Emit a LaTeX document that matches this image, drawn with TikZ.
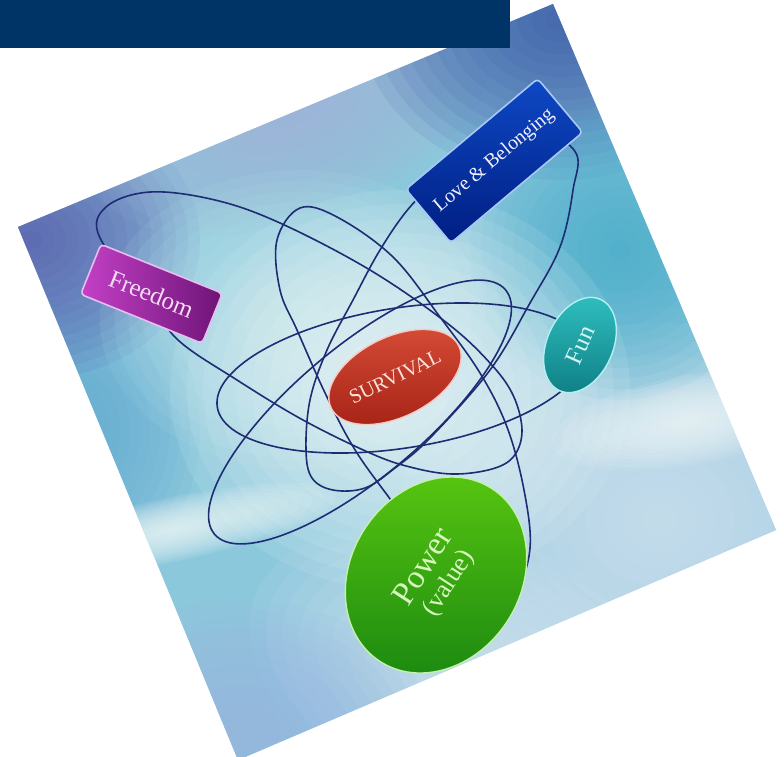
\documentclass[tikz,border=0pt]{standalone}
\usepackage{fontspec}
\setmainfont{Liberation Serif}
\usetikzlibrary{shapes.geometric}
\definecolor{barnavy}{RGB}{0,51,102}
\definecolor{orbitc}{RGB}{30,44,116}
\definecolor{bgbase}{RGB}{140,200,220}
\definecolor{freeA}{RGB}{196,64,200}
\definecolor{freeB}{RGB}{110,20,118}
\definecolor{freeE}{RGB}{230,190,240}
\definecolor{freeT}{RGB}{245,220,245}
\definecolor{loveA}{RGB}{14,72,196}
\definecolor{loveB}{RGB}{0,30,130}
\definecolor{loveE}{RGB}{170,200,245}
\definecolor{loveT}{RGB}{240,240,255}
\definecolor{survA}{RGB}{214,76,54}
\definecolor{survB}{RGB}{165,34,22}
\definecolor{survE}{RGB}{245,200,195}
\definecolor{survT}{RGB}{250,225,218}
\definecolor{funA}{RGB}{48,192,192}
\definecolor{funB}{RGB}{16,130,136}
\definecolor{funE}{RGB}{180,240,240}
\definecolor{funT}{RGB}{210,242,242}
\definecolor{powA}{RGB}{90,200,16}
\definecolor{powB}{RGB}{30,140,16}
\definecolor{powE}{RGB}{196,240,176}
\definecolor{powT}{RGB}{214,246,190}
\definecolor{bgLight}{RGB}{214,228,242}
\definecolor{bgLav}{RGB}{156,184,226}
\definecolor{bgCyanBlue}{RGB}{96,170,210}
\definecolor{bgPurple}{RGB}{86,88,172}
\definecolor{bgGrey}{RGB}{164,180,216}
\definecolor{bgBlue}{RGB}{56,86,166}
\definecolor{bgCyan}{RGB}{72,174,204}
\definecolor{bgWhite}{RGB}{242,250,250}
\definecolor{bgPale}{RGB}{190,230,236}
\newcommand{\glowblob}[6]{%
  \foreach \k in {1,...,14}{%
    \fill[#1, opacity=0.1, rotate around={#6:(#2,#3)}] (#2,#3) ellipse [x radius={#4*\k/14}, y radius={#5*\k/14}];
  }}
\begin{document}
\begin{tikzpicture}[x=1pt,y=-1pt,
  orbit/.style={draw=orbitc, line width=1.6pt},
  boxnode/.style={rectangle, rounded corners=4pt, line width=1.6pt, inner sep=0pt},
  ovalnode/.style={ellipse, line width=1.4pt, inner sep=0pt}]
\useasboundingbox (0,0) rectangle (784,756);
% background square
\coordinate (qT) at (553,4);
\coordinate (qR) at (776,530);
\coordinate (qB) at (238,760);
\coordinate (qL) at (18,227);
\begin{scope}
\clip (qT) -- (qR) -- (qB) -- (qL) -- cycle;
\fill[bgbase] (0,0) rectangle (784,760);
\glowblob{bgLight}{660}{520}{260}{230}{0}
\glowblob{bgLight}{480}{680}{240}{140}{-20}
\glowblob{bgLav}{240}{730}{190}{130}{0}
\glowblob{bgCyanBlue}{60}{430}{140}{160}{0}
\glowblob{bgPurple}{30}{240}{170}{140}{0}
\glowblob{bgGrey}{290}{110}{210}{110}{20}
\glowblob{bgBlue}{560}{20}{200}{160}{0}
\glowblob{bgCyan}{620}{250}{150}{150}{0}
\glowblob{bgPale}{300}{320}{200}{150}{0}
\glowblob{bgWhite}{400}{390}{230}{200}{0}
\glowblob{bgWhite}{170}{530}{170}{32}{12}
\glowblob{bgWhite}{690}{420}{140}{45}{10}
\end{scope}
% orbits
\draw[orbit] plot[smooth cycle, tension=0.6] coordinates {(150,300) (100,238) (106,207) (150,192) (215,200) (280,223) (370,270) (447,323) (490,363) (513,395) (522,430) (514,456) (492,469) (452,474) (410,467) (370,453) (303,420) (237,380) (178,340)};
\draw[orbit, rotate around={40:(360,412)}] (360,412) ellipse [x radius=190, y radius=65];
\draw[orbit, rotate around={9:(401,378)}] (401,378) ellipse [x radius=186, y radius=70];
\draw[orbit] plot[smooth cycle, tension=0.6] coordinates {(300,208) (337,217) (393,257) (440,317) (480,373) (507,427) (524,490) (530,548) (515,588) (475,600) (430,562) (400,513) (357,453) (327,397) (297,330) (280,290) (277,240)};
\draw[orbit] plot[smooth cycle, tension=0.6] coordinates {(410,207) (380,250) (353,300) (327,350) (310,400) (306,450) (312,478) (333,490) (365,488) (395,468) (430,438) (490,370) (530,303) (560,247) (573,190) (574,150) (520,125) (445,175)};
% nodes
\node[boxnode, rotate=-22, minimum width=131pt, minimum height=54pt, draw=freeE, left color=freeA, right color=freeB, text=freeT, font=\fontsize{25}{25}\selectfont] (freedom) at (151.5,293.8) {Freedom};
\node[boxnode, rotate=40, minimum width=172pt, minimum height=70pt, draw=loveE, top color=loveA, bottom color=loveB, text=loveT, font=\fontsize{20}{20}\selectfont] (love) at (494.3,160.8) {Love \& Belonging};
\node[ovalnode, rotate=26, minimum width=142pt, minimum height=80pt, draw=survE, top color=survA, bottom color=survB, text=survT, font=\fontsize{20.5}{20.5}\selectfont] (survival) at (395,377) {SURVIVAL};
\node[ovalnode, rotate=66, minimum width=100pt, minimum height=66pt, draw=funE, top color=funA, bottom color=funB, text=funT, font=\fontsize{25}{25}\selectfont] (fun) at (580,345) {Fun};
\node[ovalnode, rotate=57, minimum width=206pt, minimum height=170pt, draw=powE, top color=powA, bottom color=powB, text=powT, align=center, font=\fontsize{33}{30}\selectfont] (power) at (436,575) {Power\\[-2pt]{\fontsize{26}{26}\selectfont (value)}};
% header bar
\fill[barnavy] (0,0) rectangle (510,48);
\end{tikzpicture}
\end{document}
